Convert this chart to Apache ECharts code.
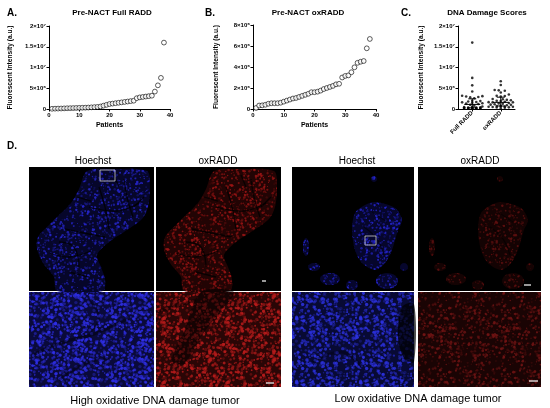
<!DOCTYPE html>
<html>
<head>
<meta charset="utf-8">
<script src="https://cdn.jsdelivr.net/npm/echarts@6.0.0/dist/echarts.min.js"></script>
<style>html,body{margin:0;padding:0;background:#fff}#c{width:550px;height:408px}</style>
</head>
<body>
<div id="c"></div>
<script>
// ---------- DATA (values in units of 10^6 a.u., sorted by patient rank) ----------
const fullRADD = [0.05,0.08,0.1,0.12,0.15,0.18,0.2,0.22,0.25,0.28,0.3,0.32,0.35,0.4,0.45,0.5,0.6,
                  0.8,1.0,1.2,1.3,1.4,1.5,1.6,1.7,1.8,1.9,2.0,2.6,2.8,2.9,3.0,3.1,3.2,4.2,5.7,7.5,16];
const oxRADD = [0.1,0.33,0.35,0.4,0.5,0.55,0.55,0.55,0.6,0.7,0.8,0.9,1.0,1.05,1.15,1.25,1.35,1.45,1.6,1.6,
                1.65,1.75,1.9,2.0,2.1,2.2,2.35,2.4,3.0,3.15,3.2,3.5,3.97,4.4,4.5,4.57,5.78,6.67];
const groupsC = ['Full RADD', 'oxRADD'];
const yTicksA = ['0', '5×10⁶', '1×10⁷', '1.5×10⁷', '2×10⁷'];
const yTicksB = ['0', '2×10⁶', '4×10⁶', '6×10⁶', '8×10⁶'];
const xTicksPatients = ['0', '10', '20', '30', '40'];

const FONT = '"Liberation Sans", Arial, Helvetica, sans-serif';

// ---------- helpers ----------
function rankPairs(vals) { return vals.map((v, i) => [i + 1, v]); }

function quartiles(vals) {
  const s = vals.slice().sort((a, b) => a - b);
  const q = p => { const pos = (s.length - 1) * p, lo = Math.floor(pos), hi = Math.ceil(pos); return s[lo] + (s[hi] - s[lo]) * (pos - lo); };
  return [q(0.25), q(0.5), q(0.75)];
}

// deterministic beeswarm placement (pixel-space collision avoidance)
function swarm(vals, center, pxPerX, pxPerY, diam, maxOff) {
  const placed = [], out = [];
  const step = diam * 0.75;
  vals.forEach(v => {
    const y = v * pxPerY;
    let best = 0, bestHits = Infinity;
    for (let k = 0; k < 60; k++) {
      const off = k === 0 ? 0 : (k % 2 ? 1 : -1) * Math.ceil(k / 2) * step;
      if (Math.abs(off) > maxOff) break;
      let hits = 0;
      for (const p of placed) { const dx = p[0] - off, dy = p[1] - y; if (dx * dx + dy * dy < diam * diam) hits++; }
      if (hits < bestHits) { bestHits = hits; best = off; }
      if (hits === 0) break;
    }
    placed.push([best, y]);
    out.push([center + best / pxPerX, v]);
  });
  return out;
}

// deterministic hash used only for the microscopy texture decoration
function hash(i, j, s) { const t = Math.sin(i * 127.1 + j * 311.7 + s * 74.7) * 43758.5453; return t - Math.floor(t); }

function texture(rgb, base, seed, n, aMin, aMax, rMin, rMax) {
  const S = 64;
  const c = document.createElement('canvas'); c.width = c.height = S;
  const x = c.getContext('2d');
  x.fillStyle = base; x.fillRect(0, 0, S, S);
  for (let k = 0; k < n; k++) {
    const px = hash(k, 1, seed) * S, py = hash(k, 2, seed) * S;
    const r = rMin + (rMax - rMin) * hash(k, 3, seed);
    const a = aMin + (aMax - aMin) * hash(k, 4, seed);
    x.fillStyle = `rgba(${rgb[0]},${rgb[1]},${rgb[2]},${a.toFixed(3)})`;
    for (let dx = -S; dx <= S; dx += S) for (let dy = -S; dy <= S; dy += S) {
      x.beginPath(); x.arc(px + dx, py + dy, r, 0, Math.PI * 2); x.fill();
    }
  }
  return c;
}
function pat(c) { return { image: c, repeat: 'repeat' }; }

const texHB = texture([48, 48, 235], '#0a0a3a', 11, 520, 0.25, 0.9, 0.7, 1.7);
const texHR = texture([185, 28, 28], '#2a0606', 12, 520, 0.25, 0.9, 0.7, 1.7);
const texLB = texture([45, 50, 225], '#080a34', 13, 500, 0.2, 0.9, 0.7, 1.7);
const texLR = texture([120, 22, 22], '#1a0404', 14, 420, 0.15, 0.8, 0.6, 1.5);
const texTB = texture([40, 40, 210], '#06062a', 15, 460, 0.2, 0.9, 0.5, 1.3);
const texTR = texture([160, 22, 22], '#220404', 16, 460, 0.2, 0.9, 0.5, 1.3);
const texTLB = texture([40, 40, 220], '#06062c', 17, 460, 0.2, 0.9, 0.5, 1.3);
const texTLR = texture([105, 18, 18], '#140303', 18, 400, 0.15, 0.8, 0.5, 1.3);

// ---------- graphic pieces ----------
function txt(x, y, s, size, bold, align) {
  return { type: 'text', x: x, y: y, silent: true,
    style: { text: s, fontSize: size, fontWeight: bold ? 'bold' : 'normal', fontFamily: FONT, fill: '#000',
             textAlign: align || 'center', textVerticalAlign: 'middle' } };
}
function poly(points, fill, extra) { return Object.assign({ type: 'polygon', silent: true, shape: { points: points, smooth: 0.3 }, style: { fill: fill } }, extra || {}); }
function ell(cx, cy, rx, ry, fill) { return { type: 'ellipse', silent: true, shape: { cx: cx, cy: cy, rx: rx, ry: ry }, style: { fill: fill } }; }
function crack(points, w, a) { return { type: 'polyline', silent: true, shape: { points: points, smooth: 0.4 }, style: { stroke: `rgba(0,0,0,${a})`, lineWidth: w, fill: null } }; }
function bar(x1, x2, y) { return { type: 'line', silent: true, shape: { x1: x1, y1: y, x2: x2, y2: y }, style: { stroke: '#fff', lineWidth: 1.2 } }; }
function panel(x, y, w, h, children) {
  return { type: 'group', x: x, y: y, children: [{ type: 'rect', silent: true, shape: { x: 0, y: 0, width: w, height: h }, style: { fill: '#000' } }].concat(children) };
}

const highTissue = [[58,4],[85,2],[118,4],[121,20],[119,40],[113,52],[95,65],[80,75],[68,88],[72,100],[76,112],[74,124],[28,124],[25,110],[14,96],[8,82],[9,70],[20,58],[30,48],[42,36],[50,22]];
const highCracks = [[[70,20],[76,40],[80,62]], [[36,62],[55,66],[76,70]], [[95,12],[98,30],[104,50]], [[20,86],[40,90],[62,84]], [[60,40],[88,44],[110,36]],
                    [[48,30],[62,34]], [[30,75],[45,80],[50,100]], [[85,8],[90,20]], [[105,40],[115,30]], [[40,105],[60,110]]];
function highTop(tex) {
  const ch = [poly(highTissue, pat(tex))];
  highCracks.forEach(c => ch.push(crack(c, 1.3, 0.75)));
  return ch;
}
const lowBlob = [[83,35],[103,41],[110,53],[106,63],[100,83],[93,96],[83,103],[70,96],[63,83],[60,63],[63,46],[73,38]];
function lowTop(tex) {
  return [poly(lowBlob, pat(tex)),
    ell(95, 114, 11, 8, pat(tex)), ell(38, 112, 10, 6, pat(tex)), ell(22, 100, 6, 4, pat(tex)),
    ell(14, 80, 3, 9, pat(tex)), ell(60, 118, 6, 5, pat(tex)), ell(112, 100, 4, 4, pat(tex)),
    ell(82, 12, 3, 3, pat(tex)),
    crack([[72,60],[85,72],[92,88]], 1.2, 0.6), crack([[80,45],[95,55]], 1, 0.5)];
}

const graphics = [
  txt(7, 13, 'A.', 10, true, 'left'),
  txt(112, 13, 'Pre-NACT Full RADD', 8, true),
  txt(205, 13, 'B.', 10, true, 'left'),
  txt(308, 13, 'Pre-NACT oxRADD', 8, true),
  txt(401, 13, 'C.', 10, true, 'left'),
  txt(487, 13, 'DNA Damage Scores', 8, true),
  txt(7, 146, 'D.', 10, true, 'left'),
  txt(93, 161, 'Hoechst', 10, false),
  txt(218, 161, 'oxRADD', 10, false),
  txt(357, 161, 'Hoechst', 10, false),
  txt(480, 161, 'oxRADD', 10, false),
  txt(155, 401, 'High oxidative DNA damage tumor', 11, false),
  txt(418, 399, 'Low oxidative DNA damage tumor', 11, false),
  // left group (high)
  panel(29, 167, 125, 124, highTop(texTB).concat([{ type: 'rect', silent: true, shape: { x: 71, y: 3, width: 15, height: 11 }, style: { fill: null, stroke: '#cfcfcf', lineWidth: 0.8 } }])),
  panel(156, 167, 125, 124, highTop(texTR).concat([bar(106, 110, 114)])),
  panel(29, 292, 125, 95, [
    { type: 'rect', silent: true, shape: { x: 0, y: 0, width: 125, height: 95 }, style: { fill: pat(texHB) } },
    crack([[5,62],[35,50],[65,42],[100,26]], 3, 0.4), crack([[30,88],[55,72],[80,66]], 2.5, 0.35), crack([[60,8],[70,25],[62,40]], 2, 0.3)]),
  panel(156, 292, 125, 95, [
    { type: 'rect', silent: true, shape: { x: 0, y: 0, width: 125, height: 95 }, style: { fill: pat(texHR) } },
    poly([[45,0],[78,0],[62,22],[44,46],[28,72],[16,68],[28,40]], 'rgba(0,0,0,0.5)'),
    crack([[0,20],[20,14],[40,8]], 3, 0.35), bar(110, 118, 91)]),
  // right group (low)
  panel(292, 167, 122, 124, lowTop(texTLB).concat([{ type: 'rect', silent: true, shape: { x: 73, y: 69, width: 11, height: 9 }, style: { fill: null, stroke: '#cfcfcf', lineWidth: 0.8 } }])),
  panel(418, 167, 123, 124, lowTop(texTLR).concat([bar(106, 113, 118)])),
  panel(292, 292, 122, 95, [
    { type: 'rect', silent: true, shape: { x: 0, y: 0, width: 122, height: 95 }, style: { fill: pat(texLB) } },
    poly([[110,15],[122,12],[122,70],[112,66],[106,45]], 'rgba(0,0,0,0.7)'),
    crack([[20,70],[50,60],[70,75]], 3, 0.3)]),
  panel(418, 292, 123, 95, [
    { type: 'rect', silent: true, shape: { x: 0, y: 0, width: 123, height: 95 }, style: { fill: pat(texLR) } },
    bar(111, 120, 89)])
];

// ---------- charts ----------
const axisCommon = {
  axisLine: { show: true, lineStyle: { color: '#000', width: 1 } },
  axisTick: { show: true, length: 2.5, lineStyle: { color: '#000', width: 1 } },
  splitLine: { show: false },
  axisLabel: { fontSize: 6, fontWeight: 'bold', color: '#000', fontFamily: FONT, margin: 3 }
};
function yName(gap) {
  return { name: 'Fluorescent Intensity (a.u.)', nameLocation: 'middle', nameGap: gap, nameRotate: 90,
           nameTextStyle: { fontSize: 6.6, fontWeight: 'bold', color: '#000', fontFamily: FONT } };
}
const xName = { name: 'Patients', nameLocation: 'middle', nameGap: 13,
                nameTextStyle: { fontSize: 7, fontWeight: 'bold', color: '#000', fontFamily: FONT } };

const gridC = { left: 458, top: 26, width: 57, height: 83 };
const pxPerXC = gridC.width / 2, pxPerYC = gridC.height / 20;
const swarmFull = swarm(fullRADD, 0.5, pxPerXC, pxPerYC, 2.7, 11);
const swarmOx = swarm(oxRADD, 1.5, pxPerXC, pxPerYC, 2.7, 13);
const qFull = quartiles(fullRADD), qOx = quartiles(oxRADD);

const circleStyle = { color: '#fff', borderColor: '#000', borderWidth: 0.8 };

const option = {
  backgroundColor: '#fff',
  animation: false,
  grid: [
    { left: 49, top: 26, width: 121, height: 83 },
    { left: 253, top: 25, width: 123, height: 84 },
    gridC
  ],
  xAxis: [
    Object.assign({}, axisCommon, xName, { gridIndex: 0, type: 'value', min: 0, max: 40, interval: 10,
      axisLabel: Object.assign({}, axisCommon.axisLabel, { formatter: v => xTicksPatients[v / 10] }) }),
    Object.assign({}, axisCommon, xName, { gridIndex: 1, type: 'value', min: 0, max: 40, interval: 10,
      axisLabel: Object.assign({}, axisCommon.axisLabel, { formatter: v => xTicksPatients[v / 10] }) }),
    Object.assign({}, axisCommon, { gridIndex: 2, type: 'category', data: groupsC,
      axisTick: { show: true, alignWithLabel: true, length: 2.5, lineStyle: { color: '#000' } },
      axisLabel: Object.assign({}, axisCommon.axisLabel, { rotate: 45, interval: 0, margin: 3 }) }),
    { gridIndex: 2, type: 'value', min: 0, max: 2, show: false }
  ],
  yAxis: [
    Object.assign({}, axisCommon, yName(35), { gridIndex: 0, type: 'value', min: 0, max: 20, interval: 5,
      axisLabel: Object.assign({}, axisCommon.axisLabel, { formatter: v => yTicksA[v / 5] }) }),
    Object.assign({}, axisCommon, yName(33), { gridIndex: 1, type: 'value', min: 0, max: 8, interval: 2,
      axisLabel: Object.assign({}, axisCommon.axisLabel, { formatter: v => yTicksB[v / 2] }) }),
    Object.assign({}, axisCommon, yName(33), { gridIndex: 2, type: 'value', min: 0, max: 20, interval: 5,
      axisLabel: Object.assign({}, axisCommon.axisLabel, { formatter: v => yTicksA[v / 5] }) })
  ],
  series: [
    { type: 'scatter', xAxisIndex: 0, yAxisIndex: 0, data: rankPairs(fullRADD), symbolSize: 4.8, itemStyle: circleStyle, z: 3 },
    { type: 'scatter', xAxisIndex: 1, yAxisIndex: 1, data: rankPairs(oxRADD), symbolSize: 4.8, itemStyle: circleStyle, z: 3 },
    { type: 'scatter', xAxisIndex: 3, yAxisIndex: 2, data: swarmFull, symbolSize: 2.6, itemStyle: { color: '#000' }, z: 3 },
    { type: 'scatter', xAxisIndex: 3, yAxisIndex: 2, data: swarmOx, symbolSize: 2.6, itemStyle: { color: '#000' }, z: 3 },
    { type: 'custom', xAxisIndex: 3, yAxisIndex: 2, z: 4,
      data: [[0.5, qFull[0], qFull[1], qFull[2]], [1.5, qOx[0], qOx[1], qOx[2]]],
      renderItem: function (params, api) {
        const x = api.value(0);
        const lo = api.coord([x, api.value(1)]), md = api.coord([x, api.value(2)]), hi = api.coord([x, api.value(3)]);
        const st = { stroke: '#000', lineWidth: 1 };
        return { type: 'group', children: [
          { type: 'line', shape: { x1: md[0] - 8, y1: md[1], x2: md[0] + 8, y2: md[1] }, style: st },
          { type: 'line', shape: { x1: lo[0], y1: lo[1], x2: hi[0], y2: hi[1] }, style: st },
          { type: 'line', shape: { x1: lo[0] - 4, y1: lo[1], x2: lo[0] + 4, y2: lo[1] }, style: st },
          { type: 'line', shape: { x1: hi[0] - 4, y1: hi[1], x2: hi[0] + 4, y2: hi[1] }, style: st }
        ] };
      } }
  ],
  graphic: graphics
};

const chart = echarts.init(document.getElementById('c'), null, { renderer: 'canvas' });
chart.setOption(option);
</script>
</body>
</html>
